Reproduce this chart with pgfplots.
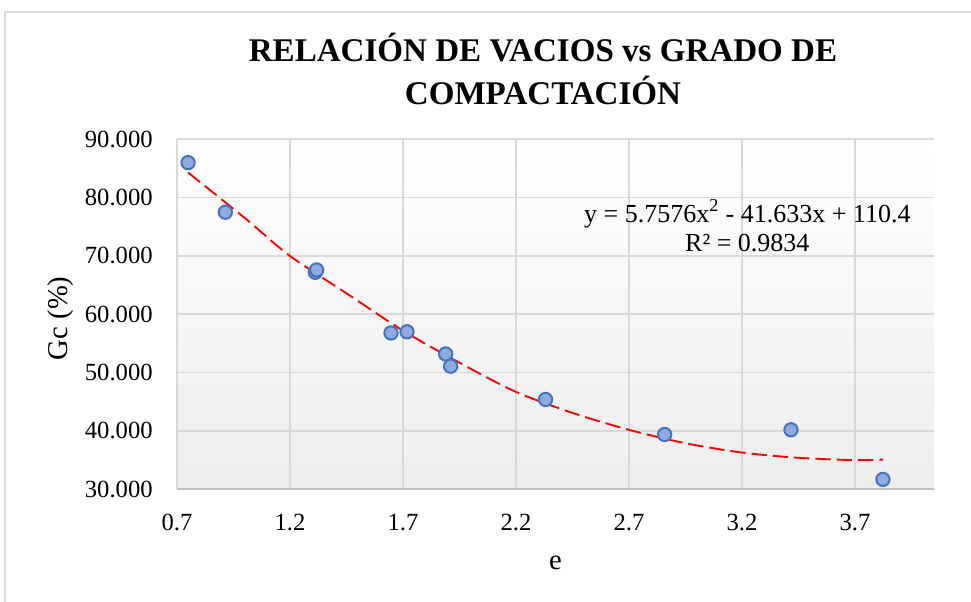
\documentclass[border=0pt]{standalone}
\usepackage{fontspec}
\setmainfont{Liberation Serif}
\usepackage{pgfplots}
\pgfplotsset{compat=1.18}
\definecolor{gridgray}{HTML}{D9D9D9}
\definecolor{axgray}{HTML}{BFBFBF}
\definecolor{ptfill}{HTML}{8FAADC}
\definecolor{ptedge}{HTML}{4472C4}

\begin{document}
\begin{tikzpicture}
  % page = 971 x 601 px, 1 px = 0.75pt
  \useasboundingbox (0,0) rectangle (728.25pt,450.75pt);
  \draw[gridgray, line width=1pt] (3.75pt,-5pt) -- (3.75pt,441.75pt) -- (740pt,441.75pt);

  \node[font=\fontsize{24.8}{32}\selectfont\bfseries, anchor=base] at (407.25pt,404.25pt)
    {RELACIÓN DE VACIOS vs GRADO DE};
  \node[font=\fontsize{24.8}{32}\selectfont\bfseries, anchor=base] at (407.25pt,372pt)
    {COMPACTACIÓN};

  \begin{axis}[
    at={(132.75pt,83.78pt)},
    anchor=south west,
    scale only axis,
    width=567.75pt,
    height=262.5pt,
    xmin=0.7, xmax=4.05,
    ymin=30, ymax=90,
    xtick={0.7,1.2,1.7,2.2,2.7,3.2,3.7},
    ytick={30,40,50,60,70,80,90},
    axis x line=bottom,
    axis y line=left,
    x axis line style={axgray, line width=1.2pt, -},
    y axis line style={gridgray, line width=1.2pt, -},
    major tick length=0pt,
    grid=major,
    major grid style={gridgray, line width=1.2pt},
    axis background/.style={top color=white, bottom color=black!7},
    tick label style={font=\fontsize{18.5}{22}\selectfont},
    /pgf/number format/assume math mode=true,
    xticklabel style={anchor=base, yshift=-30.75pt, inner sep=0pt,
      /pgf/number format/.cd, fixed, fixed zerofill, precision=1},
    yticklabel style={anchor=east, xshift=-18pt, inner sep=0pt,
      /pgf/number format/.cd, fixed, fixed zerofill, precision=3},
    clip=false,
  ]
    % trendline
    \addplot[red, line width=1.4pt, dash pattern=on 11.5pt off 4.5pt, smooth]
      coordinates {(0.749,84.3) (1.0,76.5) (1.2,70.0) (1.45,63.6) (1.7,57.2)
        (1.95,51.7) (2.2,46.7) (2.45,43.1) (2.7,40.2) (2.95,37.9)
        (3.2,36.3) (3.45,35.4) (3.7,35.0) (3.825,35.1)};
    % data points
    \addplot[only marks, mark=*, mark size=5pt,
      mark options={fill=ptfill, draw=ptedge, line width=1.5pt}]
      coordinates {(0.749,86.0) (0.914,77.5) (1.312,67.2) (1.318,67.6)
        (1.647,56.8) (1.718,57.0) (1.889,53.2) (1.911,51.1)
        (2.331,45.4) (2.858,39.4) (3.417,40.2) (3.824,31.7)};
    \node[font=\fontsize{19.5}{22}\selectfont, anchor=base] at (axis cs:3.224,75.82)
      {y = 5.7576x\textsuperscript{2} - 41.633x + 110.4};
    \node[font=\fontsize{19.5}{22}\selectfont, anchor=base] at (axis cs:3.224,70.68)
      {R² = 0.9834};
  \end{axis}

  \node[font=\fontsize{21.5}{24}\selectfont, rotate=90] at (45.75pt,212pt) {Gc (\%)};
  \node[font=\fontsize{21.5}{24}\selectfont] at (416.6pt,28.5pt) {e};
\end{tikzpicture}
\end{document}
